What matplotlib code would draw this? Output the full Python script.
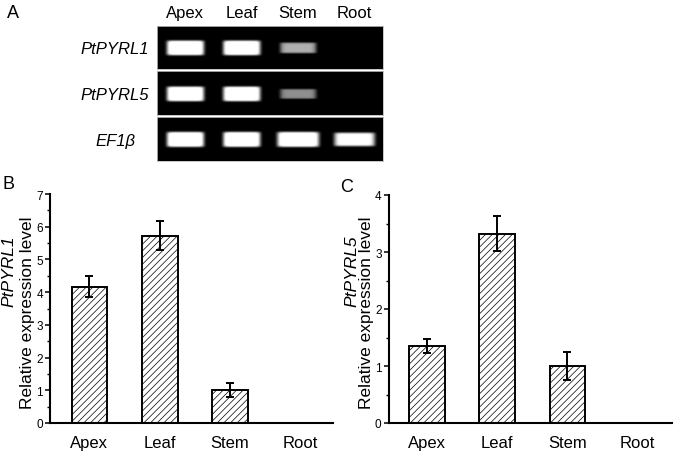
import numpy as np
import matplotlib
matplotlib.use("Agg")
import matplotlib.pyplot as plt
from matplotlib.ticker import MultipleLocator

plt.rcParams['font.family'] = ['Liberation Sans', 'DejaVu Sans']
plt.rcParams['hatch.linewidth'] = 0.5
plt.rcParams['hatch.color'] = '#666666'

# ---------------- data ----------------
tissues = ["Apex", "Leaf", "Stem", "Root"]
gel_genes = ["PtPYRL1", "PtPYRL5", "EF1β"]
band_intensity = [
    [1.0, 1.0, 0.55, 0.0],   # PtPYRL1
    [1.0, 1.0, 0.45, 0.0],   # PtPYRL5
    [1.0, 1.0, 1.0, 0.85],   # EF1beta
]
pyrl1_mean = [4.17, 5.73, 1.0, 0.0]
pyrl1_err = [0.31, 0.43, 0.22, 0.0]
pyrl5_mean = [1.35, 3.32, 1.0, 0.0]
pyrl5_err = [0.13, 0.31, 0.24, 0.0]

W, H = 675, 456
fig = plt.figure(figsize=(6.75, 4.56), dpi=100)

def fx(px):
    return px / W

def fy(py):
    return 1 - py / H

# ---------------- panel A: gel ----------------
gel_left, gel_right = 156.7, 382.7
row_bounds = [(26.7, 70.0), (72.3, 116.0), (118.0, 162.3)]
xs = np.linspace(-0.5, 3.5, 450)
ys = np.linspace(0, 1, 90)
X, Y = np.meshgrid(xs, ys)
for r, (top, bot) in enumerate(row_bounds):
    ax = fig.add_axes([fx(gel_left), fy(bot), fx(gel_right - gel_left), (bot - top) / H])
    img = np.zeros_like(X)
    for i, inten in enumerate(band_intensity[r]):
        if inten <= 0:
            continue
        w = 0.66 if inten >= 0.95 else (0.72 if r == 2 else 0.64)
        if r == 2 and i == 2:
            w = 0.74
        h = 0.34 * (0.4 + 0.6 * inten)
        u = (X - i) / (w / 2)
        v = (Y - 0.48) / (h / 2)
        prof = np.exp(-np.abs(u) ** 10) * np.exp(-np.abs(v) ** 8)
        img += inten * prof
    img = np.clip(img * 1.25, 0, 1)
    ax.imshow(img, cmap='gray', vmin=0, vmax=1, extent=[-0.5, 3.5, 0, 1],
              origin='lower', aspect='auto', interpolation='bilinear')
    ax.set_xlim(-0.5, 3.5)
    ax.set_ylim(0, 1)
    ax.set_xticks([])
    ax.set_yticks([])
    for s in ax.spines.values():
        s.set_color('#bbbbbb')
        s.set_linewidth(0.6)
    ax.set_facecolor('black')
    fig.text(fx(115), fy((top + bot) / 2 + 1), gel_genes[r], ha='center', va='center',
             fontsize=12, style='italic')
    if r == 0:
        for i, t in enumerate(tissues):
            xpix = gel_left + (i + 0.5) * (gel_right - gel_left) / 4
            fig.text(fx(xpix), fy(13.5), t, ha='center', va='center', fontsize=12)

fig.text(fx(13), fy(14), "A", ha='center', va='center', fontsize=13)

# ---------------- panels B and C: bars ----------------
def bar_panel(rect, means, errs, ymax, xlim, gene, gene_x, rel_x):
    ax = fig.add_axes(rect)
    pos = np.arange(len(tissues))
    ax.bar(pos, means, width=0.51, facecolor='white', edgecolor='black',
           linewidth=1.4, hatch='/////', zorder=2)
    ax.errorbar(pos[:3], means[:3], yerr=errs[:3], fmt='none', ecolor='black',
                elinewidth=1.4, capsize=3.2, capthick=1.4, zorder=3)
    ax.set_xlim(*xlim)
    ax.set_ylim(0, ymax)
    ax.set_xticks(pos)
    ax.set_xticklabels(tissues, fontsize=12)
    ax.tick_params(axis='x', length=0, pad=9)
    ax.yaxis.set_major_locator(MultipleLocator(1))
    ax.yaxis.set_minor_locator(MultipleLocator(0.5))
    ax.tick_params(axis='y', which='major', length=3.5, width=1.1, labelsize=8.5, pad=1.5)
    ax.tick_params(axis='y', which='minor', length=2.2, width=1.0)
    ax.spines['top'].set_visible(False)
    ax.spines['right'].set_visible(False)
    ax.spines['left'].set_linewidth(1.5)
    ax.spines['bottom'].set_linewidth(1.5)
    fig.text(fx(gene_x), fy(271), gene, rotation=90, ha='center', va='center',
             fontsize=12.5, style='italic')
    fig.text(fx(rel_x), fy(313), "Relative expression level", rotation=90,
             ha='center', va='center', fontsize=12.5)
    return ax

bar_panel([fx(50), fy(424), fx(333 - 50), (424 - 195) / H], pyrl1_mean, pyrl1_err,
          7, (-0.562, 3.47), "PtPYRL1", 9, 27.5)
bar_panel([fx(388.5), fy(424), fx(672 - 388.5), (424 - 196) / H], pyrl5_mean, pyrl5_err,
          4, (-0.55, 3.49), "PtPYRL5", 352, 367)

fig.text(fx(8), fy(185), "B", ha='center', va='center', fontsize=13)
fig.text(fx(347), fy(187), "C", ha='center', va='center', fontsize=13)

fig.savefig("out.png", dpi=100)
